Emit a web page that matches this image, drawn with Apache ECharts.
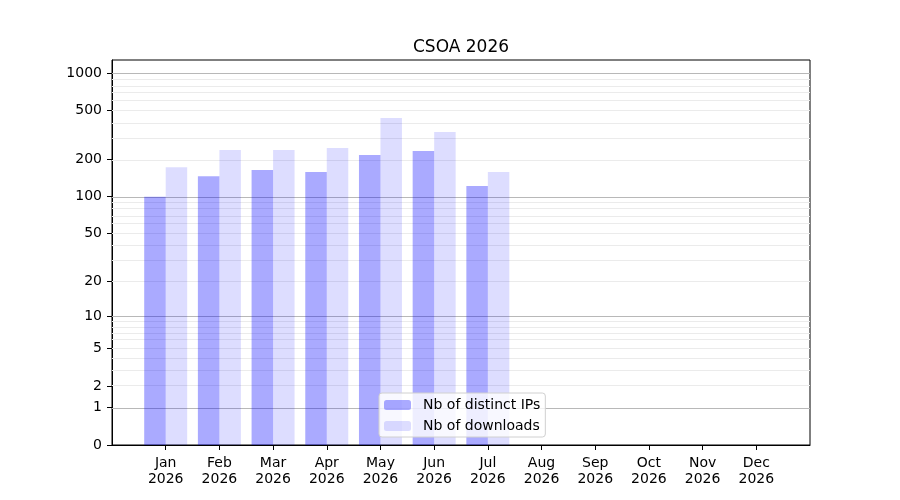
<!DOCTYPE html>
<html>
<head>
<meta charset="utf-8">
<script src="https://cdn.jsdelivr.net/npm/echarts@6/dist/echarts.min.js"></script>
<style>
  html, body { margin: 0; padding: 0; background: #fff; }
  #chart { width: 900px; height: 500px; }
</style>
</head>
<body>
<div id="chart"></div>
<script>
// categories (months), one bar group per month
var months = ['Jan', 'Feb', 'Mar', 'Apr', 'May', 'Jun', 'Jul', 'Aug', 'Sep', 'Oct', 'Nov', 'Dec'];
var year = '2026';
// values (Jan..Jul)
var distinctIps = [100, 147, 165, 159, 218, 235, 122];
var downloads = [174, 240, 240, 249, 435, 335, 159];
// y ticks (labelled), and grid lines
var yTicks = [0, 1, 2, 5, 10, 20, 50, 100, 200, 500, 1000];
var majorLines = [1, 10, 100, 1000];
var minorLines = [2, 3, 4, 5, 6, 7, 8, 9, 20, 30, 40, 50, 60, 70, 80, 90,
  200, 300, 400, 500, 600, 700, 800, 900];

// y axis uses log10(1 + v), as in the original plot
function fwd (v) { return Math.log10(1 + v); }
function inv (t) { return Math.pow(10, t) - 1; }

var chart = echarts.init(document.getElementById('chart'));

var monthIdx = months.map(function (m, i) { return i; });
var gridLines = [];
minorLines.forEach(function (v) {
  gridLines.push({ yAxis: fwd(v), lineStyle: { color: '#ebebeb', width: 1, type: 'solid' } });
});
majorLines.forEach(function (v) {
  gridLines.push({ yAxis: fwd(v), lineStyle: { color: '#b8b8b8', width: 1, type: 'solid' } });
});

var font = 'DejaVu Sans';

chart.setOption({
  animation: false,
  backgroundColor: '#fff',
  textStyle: { fontFamily: font },
  title: {
    text: 'CSOA ' + year,
    left: 461,
    top: 39,
    textAlign: 'center',
    padding: 0,
    textStyle: { fontFamily: font, fontSize: 17, fontWeight: 'normal', color: '#000' }
  },
  legend: {
    orient: 'vertical',
    left: 379,
    top: 393,
    padding: [5, 5, 4, 5],
    itemWidth: 27,
    itemHeight: 10,
    itemGap: 7,
    borderColor: '#d0d0d0',
    borderWidth: 1,
    borderRadius: 3,
    backgroundColor: 'rgba(255,255,255,0.8)',
    textStyle: { fontFamily: font, fontSize: 14, color: '#000', padding: [0, 0, 0, 7] },
    data: ['Nb of distinct IPs', 'Nb of downloads']
  },
  grid: {
    left: 112, right: 90, top: 60, bottom: 55,
    show: true, borderColor: '#000', borderWidth: 1, backgroundColor: 'transparent'
  },
  xAxis: {
    type: 'value',
    min: -1,
    max: 12,
    axisLine: { show: true, onZero: false, lineStyle: { color: '#000', width: 1 } },
    axisTick: { show: true, length: 5, customValues: monthIdx, lineStyle: { color: '#000' } },
    axisLabel: {
      customValues: monthIdx,
      margin: 10,
      fontFamily: font, fontSize: 14, color: '#000', lineHeight: 16,
      formatter: function (v) { return months[Math.round(v)] + '\n' + year; }
    },
    splitLine: { show: false }
  },
  yAxis: {
    type: 'value',
    min: 0,
    max: 3.108,
    axisLine: { show: true, onZero: false, lineStyle: { color: '#000', width: 1 } },
    axisTick: { show: true, length: 5, customValues: yTicks.map(fwd), lineStyle: { color: '#000' } },
    axisLabel: {
      customValues: yTicks.map(fwd),
      margin: 10,
      fontFamily: font, fontSize: 14, color: '#000',
      formatter: function (t) { return String(Math.round(inv(t))); }
    },
    splitLine: { show: false }
  },
  series: [
    {
      name: 'Nb of distinct IPs',
      type: 'bar',
      barWidth: 21.5,
      barGap: '0%',
      z: 2,
      itemStyle: { color: 'rgba(0,0,255,0.333)' },
      data: distinctIps.map(function (v, i) { return [i, fwd(v)]; }),
      markLine: {
        silent: true,
        z: 1,
        symbol: 'none',
        label: { show: false },
        data: gridLines
      }
    },
    {
      name: 'Nb of downloads',
      type: 'bar',
      barWidth: 21.5,
      barGap: '0%',
      z: 2,
      itemStyle: { color: 'rgba(0,0,255,0.133)' },
      data: downloads.map(function (v, i) { return [i, fwd(v)]; })
    }
  ]
});
</script>
</body>
</html>
